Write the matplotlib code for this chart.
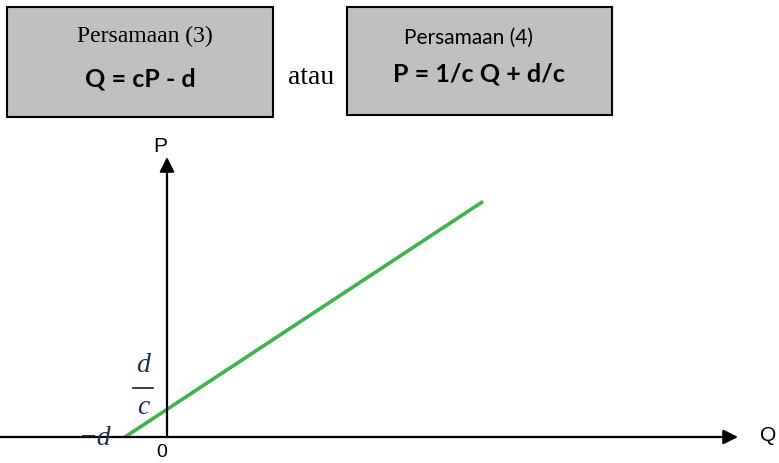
import matplotlib.pyplot as plt
from matplotlib.patches import Rectangle

# supply curve: Q = cP - d  ->  P = 1/c Q + d/c
d = 42.0
c = 1.52
q_end = 316.0

# axis extents (data units, origin at 0)
q_axis = (-167, 571)
p_axis = (0, 280)

W, H = 779, 464

fig = plt.figure(figsize=(W / 100, H / 100), dpi=100)
ax = fig.add_axes([0, 0, 1, 1])
ax.set_xlim(-167, W - 167)
ax.set_ylim(-(H - 438), 438)
ax.axis('off')


def px(x, y):
    # pixel (from top-left) -> figure fraction
    return x / W, 1 - y / H


# axes with arrows
ax.annotate('', xy=(q_axis[1], 0), xytext=(q_axis[0], 0),
            arrowprops=dict(arrowstyle='-|>', lw=1.6, color='black',
                            mutation_scale=22, shrinkA=0, shrinkB=0))
ax.annotate('', xy=(0, p_axis[1]), xytext=(0, p_axis[0]),
            arrowprops=dict(arrowstyle='-|>', lw=1.6, color='black',
                            mutation_scale=22, shrinkA=0, shrinkB=0))

# green line
q = [-d, q_end]
p = [qq / c + d / c for qq in q]
ax.plot(q, p, color='#3db54a', lw=2.6, solid_capstyle='butt')

sans = 'Liberation Sans'
serif = 'Liberation Serif'
navy = '#1f2f5a'

fig.text(*px(160, 146), 'P', fontsize=15, family=sans, ha='center', va='center')
fig.text(*px(768, 436), 'Q', fontsize=15, family=sans, ha='center', va='center')
fig.text(*px(162, 453), '0', fontsize=14, family=sans, ha='center', va='center')

# d/c label
fig.text(*px(143, 366), 'd', fontsize=20, family=serif, style='italic',
         color=navy, ha='center', va='center')
ax.plot([133 - 167, 153 - 167], [438 - 389, 438 - 389], color=navy, lw=1.3)
fig.text(*px(143, 408), 'c', fontsize=20, family=serif, style='italic',
         color=navy, ha='center', va='center')
fig.text(*px(95, 439), '\u2212d', fontsize=20, family=serif, style='italic',
         color=navy, ha='center', va='center')

# equation boxes
for x0, y0, x1, y1 in [(7, 8, 273, 118), (347, 8, 612, 116)]:
    fx0, fy1 = px(x0, y0)
    fx1, fy0 = px(x1, y1)
    fig.patches.append(Rectangle((fx0, fy0), fx1 - fx0, fy1 - fy0,
                                 transform=fig.transFigure, facecolor='#c0c0c0',
                                 edgecolor='black', lw=1.5))

fig.text(*px(145, 36), 'Persamaan (3)', fontsize=17, family=serif,
         ha='center', va='center')
fig.text(*px(140, 79), 'Q = cP - d', fontsize=18, family='Lato',
         weight='bold', ha='center', va='center')
fig.text(*px(311, 77), 'atau', fontsize=20, family=serif,
         ha='center', va='center')
fig.text(*px(469, 38), 'Persamaan (4)', fontsize=15, family='Lato',
         ha='center', va='center')
fig.text(*px(479, 74), 'P = 1/c Q + d/c', fontsize=18, family='Lato',
         weight='bold', ha='center', va='center')

fig.savefig('out.png', dpi=100)
